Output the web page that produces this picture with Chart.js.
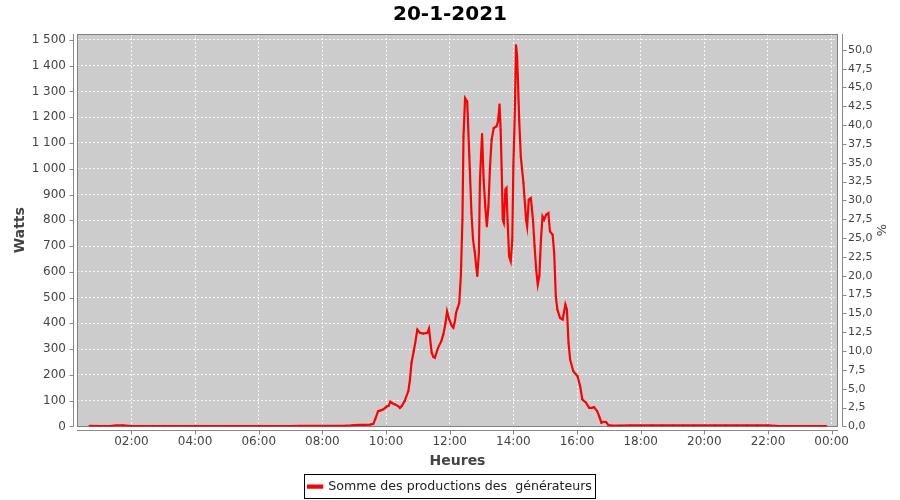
<!DOCTYPE html>
<html>
<head>
<meta charset="utf-8">
<script src="https://cdn.jsdelivr.net/npm/chart.js@4.4.1/dist/chart.umd.min.js"></script>
<style>
html,body{margin:0;padding:0;background:#fff;}
#wrap{width:900px;height:500px;}
</style>
</head>
<body>
<div id="wrap"><canvas id="c" width="900" height="500"></canvas></div>
<script>
// ---- data ----
const chartTitle = '20-1-2021';
const seriesName = 'Somme des productions des  générateurs';
const times = [
 "00:41","01:00","01:20","01:32","01:44","02:00","02:20","02:40","03:00","03:20","03:40","04:00","04:20","04:40",
 "05:00","05:20","05:40","06:00","06:20","06:40","07:00","07:20","07:40","08:00","08:20","08:40","08:55",
 "09:00","09:10","09:20","09:30","09:36","09:40","09:45","09:50","09:55","10:01","10:05","10:08","10:12","10:17",
 "10:22","10:26","10:30","10:35","10:42","10:45","10:48","10:52","10:55","10:59","11:04","11:10","11:18","11:21",
 "11:26","11:29","11:32","11:38","11:44","11:48","11:52","11:55","11:59","12:04","12:07","12:10","12:12","12:15",
 "12:18","12:21","12:24","12:26","12:29","12:33","12:37","12:41","12:44","12:47","12:50","12:52","12:55","12:57",
 "13:01","13:04","13:07","13:10","13:13","13:16","13:19","13:23","13:28","13:31","13:34","13:36","13:38","13:40",
 "13:42","13:45","13:47","13:49","13:52","13:55","13:58","14:00","14:03","14:05","14:07","14:09","14:11","14:14",
 "14:19","14:24","14:26","14:29","14:33","14:37","14:40","14:43","14:46","14:49","14:52","14:55","14:58","15:02",
 "15:06","15:09","15:14","15:17","15:20","15:23","15:28","15:33","15:38","15:41","15:44","15:47","15:53","16:01",
 "16:06","16:10","16:17","16:23","16:28","16:32","16:38","16:42","16:46","16:50","16:55","16:59","17:05","17:20",
 "17:40","18:00","18:20","18:40","19:00","19:20","19:40","20:00","20:20","20:40","21:00","21:20","21:40","22:00",
 "22:20","22:40","23:00","23:20","23:40","23:50"
];
const watts = [
 2,1,1,4,4,1,1,1,1,1,1,1,1,1,
 1,1,1,1,1,1,1,2,2,2,2,2,4,
 5,6,6,7,10,30,59,62,66,77,80,96,90,85,
 80,72,80,98,137,180,247,290,324,376,363,360,363,380,
 286,270,266,305,330,357,400,447,415,390,383,410,441,460,
 479,583,802,1125,1274,1261,1048,828,725,680,621,583,673,957,
 1135,957,854,776,854,1009,1112,1158,1164,1183,1250,1151,996,802,
 790,919,925,802,660,641,725,1009,1241,1480,1440,1320,1190,1048,
 945,802,776,880,886,802,699,609,550,583,725,815,802,822,
 828,757,744,673,505,453,421,415,473,453,324,260,214,195,
 156,105,92,72,72,75,59,38,14,18,17,5,3,3,
 4,4,4,4,4,4,4,4,4,4,4,4,4,4,
 1,1,1,1,1,1
];
const hourTicks = [2,4,6,8,10,12,14,16,18,20,22,24];
const wattTicks = [0,100,200,300,400,500,600,700,800,900,1000,1100,1200,1300,1400,1500];
const pctTicks = [0,2.5,5,7.5,10,12.5,15,17.5,20,22.5,25,27.5,30,32.5,35,37.5,40,42.5,45,47.5,50];

function toHours(t){ const p = t.split(':').map(Number); return p[0] + p[1]/60; }
const points = times.map((t,i)=>({x: toHours(t), y: watts[i]}));

const FONT = 'DejaVu Sans';
const TICK_COLOR = '#444';

const frame = {
  id: 'frame',
  beforeDraw(chart){
    const {ctx, chartArea:a} = chart;
    ctx.save();
    ctx.fillStyle = '#cccccc';
    ctx.fillRect(a.left, a.top, a.right-a.left, a.bottom-a.top);
    ctx.restore();
  },
  beforeDatasetsDraw(chart){
    const {ctx, chartArea:a} = chart;
    ctx.save();
    ctx.strokeStyle = '#808080';
    ctx.lineWidth = 1;
    ctx.strokeRect(Math.round(a.left)+0.5, Math.round(a.top)+0.5, Math.round(a.right-a.left)-1, Math.round(a.bottom-a.top));
    ctx.restore();
  },
  afterDraw(chart){
    const {ctx, chartArea:a, scales} = chart;
    ctx.save();
    ctx.strokeStyle = '#888888';
    ctx.lineWidth = 1;
    ctx.beginPath();
    const lx = Math.round(a.left) - 4 + 0.5;
    ctx.moveTo(lx, a.top); ctx.lineTo(lx, a.bottom);
    scales.y.ticks.forEach(t=>{ const py = Math.round(scales.y.getPixelForValue(t.value))+0.5; ctx.moveTo(lx-4, py); ctx.lineTo(lx, py); });
    const rx = Math.round(a.right) + 4 + 0.5;
    ctx.moveTo(rx, a.top); ctx.lineTo(rx, a.bottom);
    scales.y1.ticks.forEach(t=>{ const py = Math.round(scales.y1.getPixelForValue(t.value))+0.5; ctx.moveTo(rx, py); ctx.lineTo(rx+4, py); });
    const by = Math.round(a.bottom) + 4 + 0.5;
    ctx.moveTo(a.left, by); ctx.lineTo(a.right, by);
    scales.x.ticks.forEach(t=>{ const px = Math.round(scales.x.getPixelForValue(t.value))+0.5; ctx.moveTo(px, by); ctx.lineTo(px, by+4); });
    ctx.stroke();
    const lg = chart.legend;
    if (lg && lg.legendHitBoxes && lg.legendHitBoxes.length){
      const hb = lg.legendHitBoxes[0];
      ctx.strokeStyle = '#000';
      ctx.strokeRect(Math.round(hb.left)-3.5, Math.round(hb.top)-5.5, Math.round(hb.width)+7, Math.round(hb.height)+11);
    }
    ctx.restore();
  }
};

function fmtWatt(v){
  if (v >= 1000) return Math.floor(v/1000) + ' ' + String(v%1000).padStart(3,'0');
  return String(v);
}
function fmtHour(v){
  const h = Math.round(v) % 24;
  return String(h).padStart(2,'0') + ':00';
}

new Chart(document.getElementById('c'), {
  type: 'line',
  data: {
    datasets: [{
      label: seriesName,
      data: points,
      yAxisID: 'y',
      borderColor: '#ff0000',
      backgroundColor: '#ff0000',
      borderWidth: 2.2,
      pointRadius: 1.2,
      pointStyle: 'rect',
      pointBorderWidth: 0,
      pointBackgroundColor: '#ff0000',
      tension: 0,
      fill: false,
      clip: {left: 1, right: 1, top: 1, bottom: 0}
    }]
  },
  options: {
    responsive: false,
    animation: false,
    events: [],
    layout: {padding: {top: 0, left: 0, right: 0, bottom: -3}},
    plugins: {
      title: {
        display: true, text: chartTitle, color: '#000',
        font: {family: FONT, size: 20, weight: 'bold'},
        padding: {top: 3, bottom: 7}
      },
      legend: {
        display: true, position: 'bottom',
        labels: {
          font: {family: FONT, size: 12.6}, color: '#222',
          boxWidth: 14, boxHeight: 2, padding: 8
        }
      },
      tooltip: {enabled: false}
    },
    scales: {
      x: {
        type: 'linear', min: 0.29, max: 24.2,
        afterBuildTicks: s => { s.ticks = hourTicks.map(v=>({value:v})); },
        afterFit: s => { s.height = 46; },
        ticks: {callback: v => fmtHour(v), font: {family: FONT, size: 12}, color: TICK_COLOR, padding: 8, maxRotation: 0, autoSkip: false},
        grid: {color: 'rgba(255,255,255,0.85)', lineWidth: 1, drawTicks: false},
        border: {display: false, dash: [2,2]},
        title: {display: true, text: 'Heures', color: '#444', font: {family: FONT, size: 14, weight: 'bold'}, padding: {top: 0, bottom: 3}}
      },
      y: {
        type: 'linear', position: 'left', min: 0, max: 1523,
        afterBuildTicks: s => { s.ticks = wattTicks.map(v=>({value:v})); },
        afterFit: s => { s.width = 77; },
        ticks: {callback: v => fmtWatt(v), font: {family: FONT, size: 12}, color: TICK_COLOR, padding: 11, autoSkip: false},
        grid: {color: 'rgba(255,255,255,0.85)', lineWidth: 1, drawTicks: false},
        border: {display: false, dash: [2,2]},
        title: {display: true, text: 'Watts', color: '#444', font: {family: FONT, size: 14, weight: 'bold'}, padding: {top: 12, bottom: 0}}
      },
      y1: {
        type: 'linear', position: 'right', min: 0, max: 52.1,
        afterBuildTicks: s => { s.ticks = pctTicks.map(v=>({value:v})); },
        afterFit: s => { s.width = 62; },
        ticks: {callback: v => v.toFixed(1).replace('.', ','), font: {family: FONT, size: 11}, color: TICK_COLOR, padding: 10, autoSkip: false},
        grid: {display: false, drawTicks: false},
        border: {display: false},
        title: {display: true, text: '%', color: '#444', font: {family: FONT, size: 13}, padding: {top: 12, bottom: 0}}
      }
    }
  },
  plugins: [frame]
});
</script>
</body>
</html>
